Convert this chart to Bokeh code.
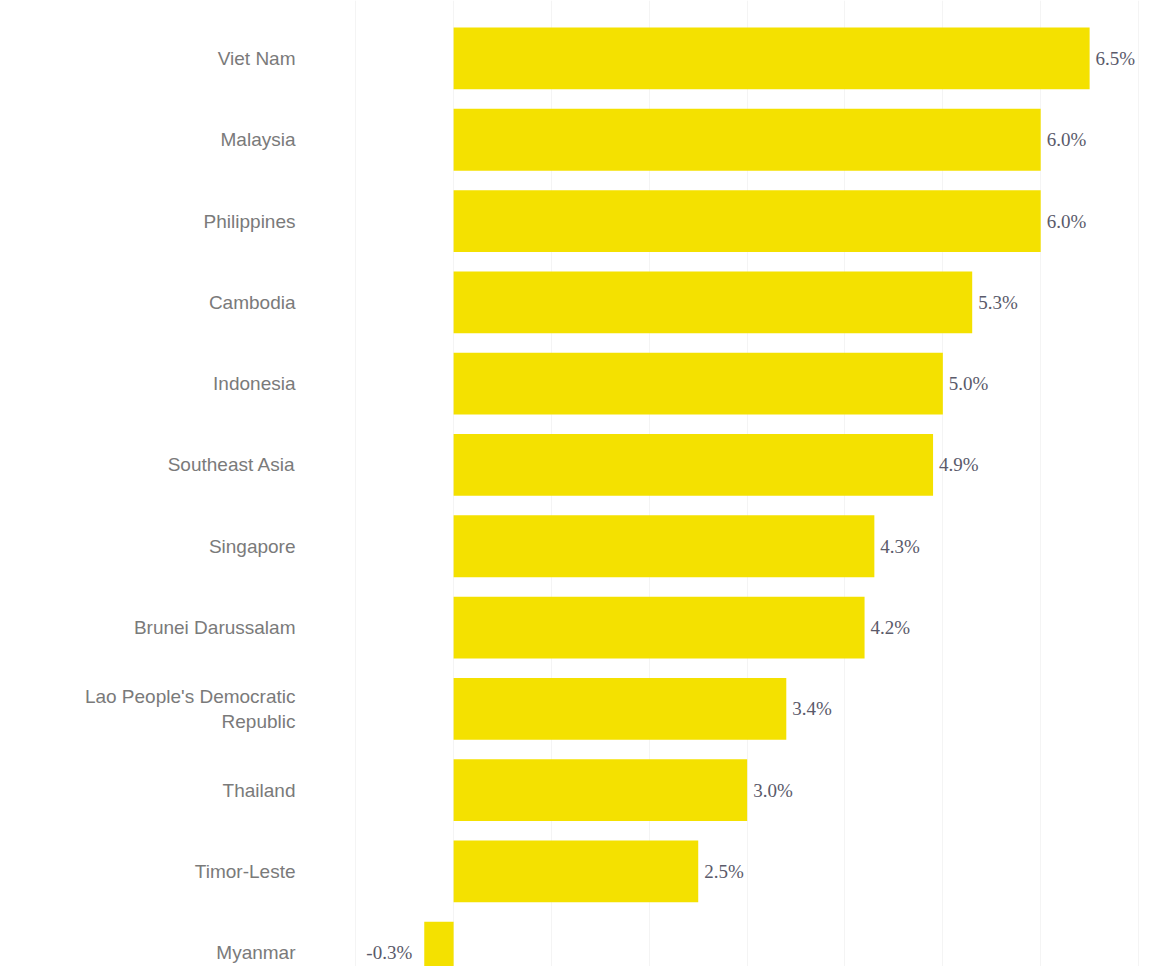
from bokeh.plotting import figure
from bokeh.models import ColumnDataSource, Range1d, FixedTicker, SingleIntervalTicker
from bokeh.core.properties import value
from bokeh.embed import file_html
from bokeh.resources import INLINE

countries = ["Viet Nam", "Malaysia", "Philippines", "Cambodia", "Indonesia",
             "Southeast Asia", "Singapore", "Brunei Darussalam",
             "Lao People's Democratic\nRepublic", "Thailand", "Timor-Leste", "Myanmar"]
growth = [6.5, 6.0, 6.0, 5.3, 5.0, 4.9, 4.3, 4.2, 3.4, 3.0, 2.5, -0.3]
value_labels = ["6.5%", "6.0%", "6.0%", "5.3%", "5.0%", "4.9%", "4.3%", "4.2%",
                "3.4%", "3.0%", "2.5%", "-0.3%"]

pos = list(range(len(countries)))
src = ColumnDataSource(dict(
    y=pos, v=growth, lab=value_labels,
    align=["left" if g >= 0 else "right" for g in growth],
    xo=[6 if g >= 0 else -12 for g in growth],
))

p = figure(width=1140, height=966, output_backend="svg", toolbar_location=None,
           x_range=Range1d(-1.483, 7.02), y_range=Range1d(11.169, -0.713),
           min_border_left=308, min_border_right=0, min_border_top=0, min_border_bottom=0)
p.outline_line_color = None
p.background_fill_color = "white"
p.border_fill_color = "white"

p.hbar(y="y", left=0, right="v", height=0.76, source=src,
       fill_color="#F4E100", line_color=None)

p.text(x="v", y="y", text="lab", source=src, text_align="align", x_offset="xo",
       text_baseline="middle", text_font=value("Liberation Serif"),
       text_font_size="19px", text_color="#5a5a6a")

p.xaxis.visible = False
p.xgrid.ticker = SingleIntervalTicker(interval=1)
p.xgrid.grid_line_color = "#f4f4f4"
p.ygrid.grid_line_color = None

ya = p.yaxis[0]
ya.ticker = FixedTicker(ticks=pos)
ya.major_label_overrides = {i: c for i, c in zip(pos, countries)}
ya.axis_line_color = None
ya.major_tick_line_color = None
ya.minor_tick_line_color = None
ya.major_tick_out = 0
ya.major_tick_in = 0
ya.major_label_standoff = 13
ya.major_label_text_font = "Liberation Sans"
ya.major_label_text_font_size = "19px"
ya.major_label_text_color = "#7a7a7a"

open("out.html", "w").write(file_html(p, INLINE))
